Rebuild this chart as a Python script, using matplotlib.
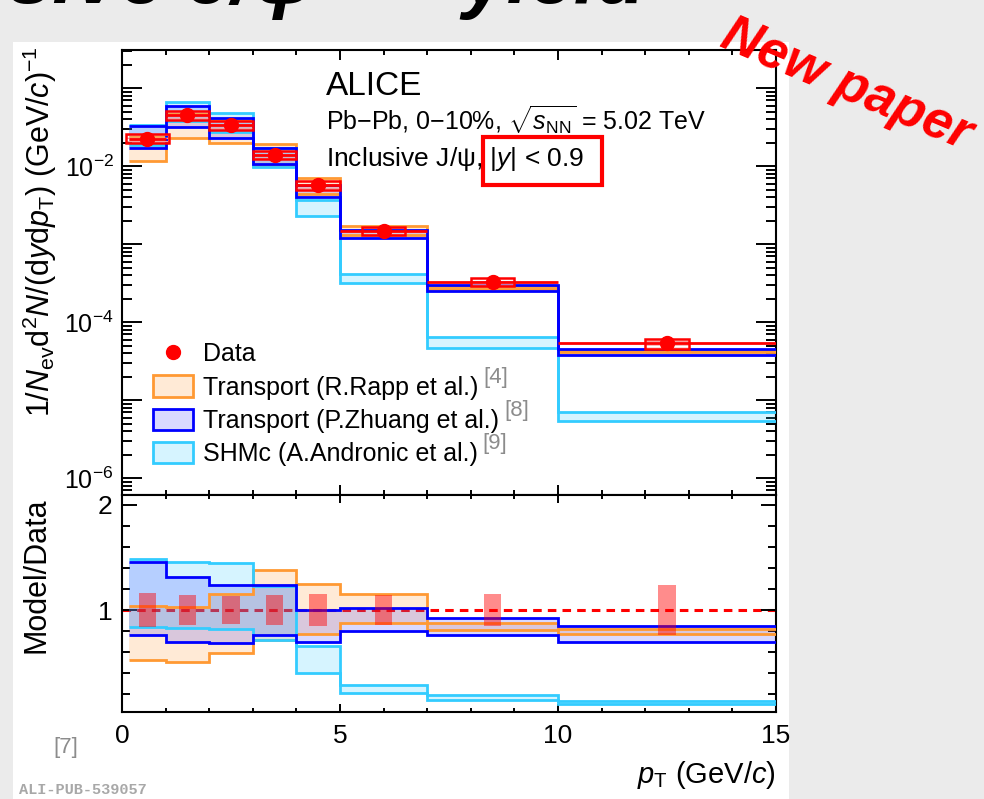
import numpy as np
import matplotlib as mpl
mpl.use('Agg')
import matplotlib.pyplot as plt
import matplotlib.ticker as ticker
from matplotlib.patches import Patch, Rectangle
from matplotlib.lines import Line2D

plt.rcParams['font.family'] = ['Liberation Sans', 'DejaVu Sans']
plt.rcParams['mathtext.fontset'] = 'custom'
plt.rcParams['mathtext.rm'] = 'Liberation Sans'
plt.rcParams['mathtext.it'] = 'Liberation Sans:italic'
plt.rcParams['mathtext.bf'] = 'Liberation Sans:bold'
plt.rcParams['hatch.linewidth'] = 1.0

# pT bins (GeV/c)
edges = [0.15, 1, 2, 3, 4, 5, 7, 10, 15]
bin_lo = [0.15, 1, 2, 3, 4, 5, 7, 10]
bin_hi = [1, 2, 3, 4, 5, 7, 10, 15]

# ALICE data
data_x = [0.58, 1.5, 2.5, 3.5, 4.5, 6.0, 8.5, 12.5]
data_y = [0.0226, 0.0451, 0.0336, 0.0139, 0.0057, 0.00148, 3.29e-4, 5.38e-5]
data_sys = [0.13, 0.12, 0.12, 0.12, 0.12, 0.11, 0.11, 0.15]     # boxes, relative
data_err = [0.16, 0.14, 0.135, 0.14, 0.15, 0.14, 0.15, 0.24]    # ratio panel, relative

# model / data bands
rapp_lo = [0.52, 0.51, 0.595, 0.715, 0.772, 0.879, 0.81, 0.771]
rapp_hi = [1.042, 1.027, 1.152, 1.377, 1.245, 1.15, 0.88, 0.816]
zhuang_lo = [0.762, 0.698, 0.689, 0.758, 0.70, 0.803, 0.765, 0.698]
zhuang_hi = [1.457, 1.314, 1.238, 1.242, 1.005, 1.015, 0.921, 0.848]
shmc_lo = [0.841, 0.832, 0.822, 0.712, 0.40, 0.213, 0.143, 0.102]
shmc_hi = [1.483, 1.46, 1.448, 1.232, 0.657, 0.283, 0.194, 0.133]

col_rapp = '#ff9933'
col_zhuang = '#0000ff'
col_shmc = '#33ccff'
grey = '#8c8c8c'

fig = plt.figure(figsize=(9.84, 7.99), dpi=100, facecolor='#ebebeb')
fig.add_artist(Rectangle((13/984, 0), 776/984, 1-42/799, transform=fig.transFigure,
                         fc='white', ec='none', zorder=-10))

ax1 = fig.add_axes([0.124, 0.3805, 0.6646, 0.5570])
ax2 = fig.add_axes([0.124, 0.1089, 0.6646, 0.2716])

dy = np.array(data_y)
models = [(rapp_lo, rapp_hi, col_rapp, 0.2),
          (shmc_lo, shmc_hi, col_shmc, 0.2),
          (zhuang_lo, zhuang_hi, col_zhuang, 0.15)]
for lo, hi, col, a in models:
    lo = np.array(lo)
    hi = np.array(hi)
    for ax, sc in ((ax1, dy), (ax2, 1.0)):
        ax.stairs(hi*sc, edges, baseline=lo*sc, fill=True, color=col, alpha=a, lw=0, zorder=2)
        ax.stairs(hi*sc, edges, baseline=None, color=col, lw=2, zorder=3)
        ax.stairs(lo*sc, edges, baseline=None, color=col, lw=2, zorder=3)

# data, top panel
sys = np.array(data_sys)
dx = np.array(data_x)
ax1.bar(data_x, dy*2*sys, bottom=dy*(1-sys), width=1.0, fill=False, hatch='-----',
        edgecolor='#f5a0a0', lw=0, zorder=5)
ax1.bar(data_x, dy*2*sys, bottom=dy*(1-sys), width=1.0, fill=False,
        edgecolor='red', lw=1.8, zorder=6)
ax1.errorbar(data_x, data_y, xerr=[dx-np.array(bin_lo), np.array(bin_hi)-dx], fmt='o',
             color='red', ms=10, elinewidth=2, capsize=0, zorder=7)

# ratio panel
err = np.array(data_err)
ax2.axhline(1, color='red', lw=2.2, ls=(0, (2.8, 2.0)), zorder=1)
ax2.bar(data_x, 2*err, bottom=1-err, width=0.4, color='red', alpha=0.45, lw=0, zorder=6)

# axes
for ax in (ax1, ax2):
    ax.set_xlim(0, 15)
    ax.xaxis.set_major_locator(ticker.MultipleLocator(5))
    ax.xaxis.set_minor_locator(ticker.MultipleLocator(1))
    for s in ax.spines.values():
        s.set_linewidth(1.5)
    ax.tick_params(which='both', direction='in', top=True, right=True, width=1.4)

ax1.set_yscale('log')
ax1.set_ylim(6.1e-7, 0.31)
ax1.yaxis.set_major_locator(ticker.LogLocator(base=10, numticks=20))
ax1.yaxis.set_minor_locator(ticker.LogLocator(base=10, subs=np.arange(2, 10), numticks=20))
ax1.yaxis.set_major_formatter(ticker.FuncFormatter(
    lambda v, p: r'$10^{%d}$' % round(np.log10(v)) if round(np.log10(v)) % 2 == 0 else ''))
ax1.yaxis.set_minor_formatter(ticker.NullFormatter())
ax1.tick_params(labelbottom=False)
ax1.tick_params(axis='x', which='major', length=7.2)
ax1.tick_params(axis='x', which='minor', length=3.6)
ax1.tick_params(axis='y', which='major', length=14.4, labelsize=18, pad=6)
ax1.tick_params(axis='y', which='minor', length=7.2)

ax2.set_ylim(0.03, 2.095)
ax2.yaxis.set_major_locator(ticker.FixedLocator([1, 2]))
ax2.yaxis.set_minor_locator(ticker.MultipleLocator(0.2))
ax2.yaxis.set_major_formatter(ticker.FormatStrFormatter('%d'))
ax2.tick_params(axis='x', which='major', length=5.5, labelsize=19, pad=9)
ax2.tick_params(axis='x', which='minor', length=3)
ax2.tick_params(axis='y', which='major', length=11, labelsize=19, pad=7)
ax2.tick_params(axis='y', which='minor', length=6)

fig.text(0.0407, 1-46/799, r'1/$N_{\rm ev}$d$^{2}N$/(d$y$d$p_{\rm T}$) (GeV/$c$)$^{-1}$',
         rotation=90, ha='center', va='top', fontsize=22)
fig.text(0.0366, 1-497/799, 'Model/Data', rotation=90, ha='center', va='top', fontsize=22)
fig.text(776/984, 1-783/799, r'$p_{\rm T}$ (GeV/$c$)', ha='right', va='baseline', fontsize=21)

# labels in the top panel
fig.text(326/984, 1-95/799, 'ALICE', fontsize=24, va='baseline')
fig.text(326/984, 1-131/799, r'Pb$-$Pb, 0$-$10%, $\sqrt{s_{\rm NN}}$ = 5.02 TeV', fontsize=18, va='baseline')
fig.text(326/984, 1-166/799, r'Inclusive J/ψ, $|y|$ < 0.9', fontsize=19, va='baseline')
fig.add_artist(Rectangle((482.5/984, 1-185/799), 119.5/984, 48/799, transform=fig.transFigure,
                         fill=False, ec='red', lw=3))

handles = [Line2D([], [], marker='o', color='red', ls='none', ms=10),
           Patch(facecolor=(1, 0.6, 0.2, 0.2), edgecolor=col_rapp, lw=2),
           Patch(facecolor=(0, 0, 1, 0.15), edgecolor=col_zhuang, lw=2),
           Patch(facecolor=(0.2, 0.8, 1, 0.2), edgecolor=col_shmc, lw=2)]
labels = ['Data', 'Transport (R.Rapp et al.)', 'Transport (P.Zhuang et al.)', 'SHMc (A.Andronic et al.)']
leg = ax1.legend(handles, labels, loc='upper left', bbox_to_anchor=(0.048, 0.343), frameon=False,
                 fontsize=18, borderpad=0, borderaxespad=0, handlelength=1.6, handleheight=0.92,
                 handletextpad=0.38, labelspacing=0.36)

# slide decorations
fig.text(316/984, 1-3/799, 'Inclusive J/ψ', fontsize=58, fontweight='bold', fontstyle='italic',
         ha='right', va='baseline')
fig.text(462/984, 1-3/799, 'yield', fontsize=58, fontweight='bold', fontstyle='italic',
         ha='left', va='baseline')
fig.text(0.86, 0.893, 'New paper', color='red', fontsize=38, fontweight='bold', fontstyle='italic',
         rotation=-23, ha='center', va='center', rotation_mode='anchor')
fig.text(53/984, 1-758/799, '[7]', fontsize=16, color=grey, va='bottom')
fig.text(19/984, 1-797/799, 'ALI-PUB-539057', family='Liberation Mono', fontweight='bold',
         fontsize=11, color='#a8a8a8', va='bottom')

# reference numbers next to the legend entries
fig.canvas.draw()
rend = fig.canvas.get_renderer()
for t, ref in zip(leg.get_texts()[1:], ['[4]', '[8]', '[9]']):
    bb = t.get_window_extent(rend)
    x, y = fig.transFigure.inverted().transform((bb.x1 + 5, bb.y1 + 9))
    fig.text(x, y, ref, ha='left', va='top', fontsize=16, color=grey)

plt.savefig('out.png', dpi=100, facecolor=fig.get_facecolor())
plt.close()
